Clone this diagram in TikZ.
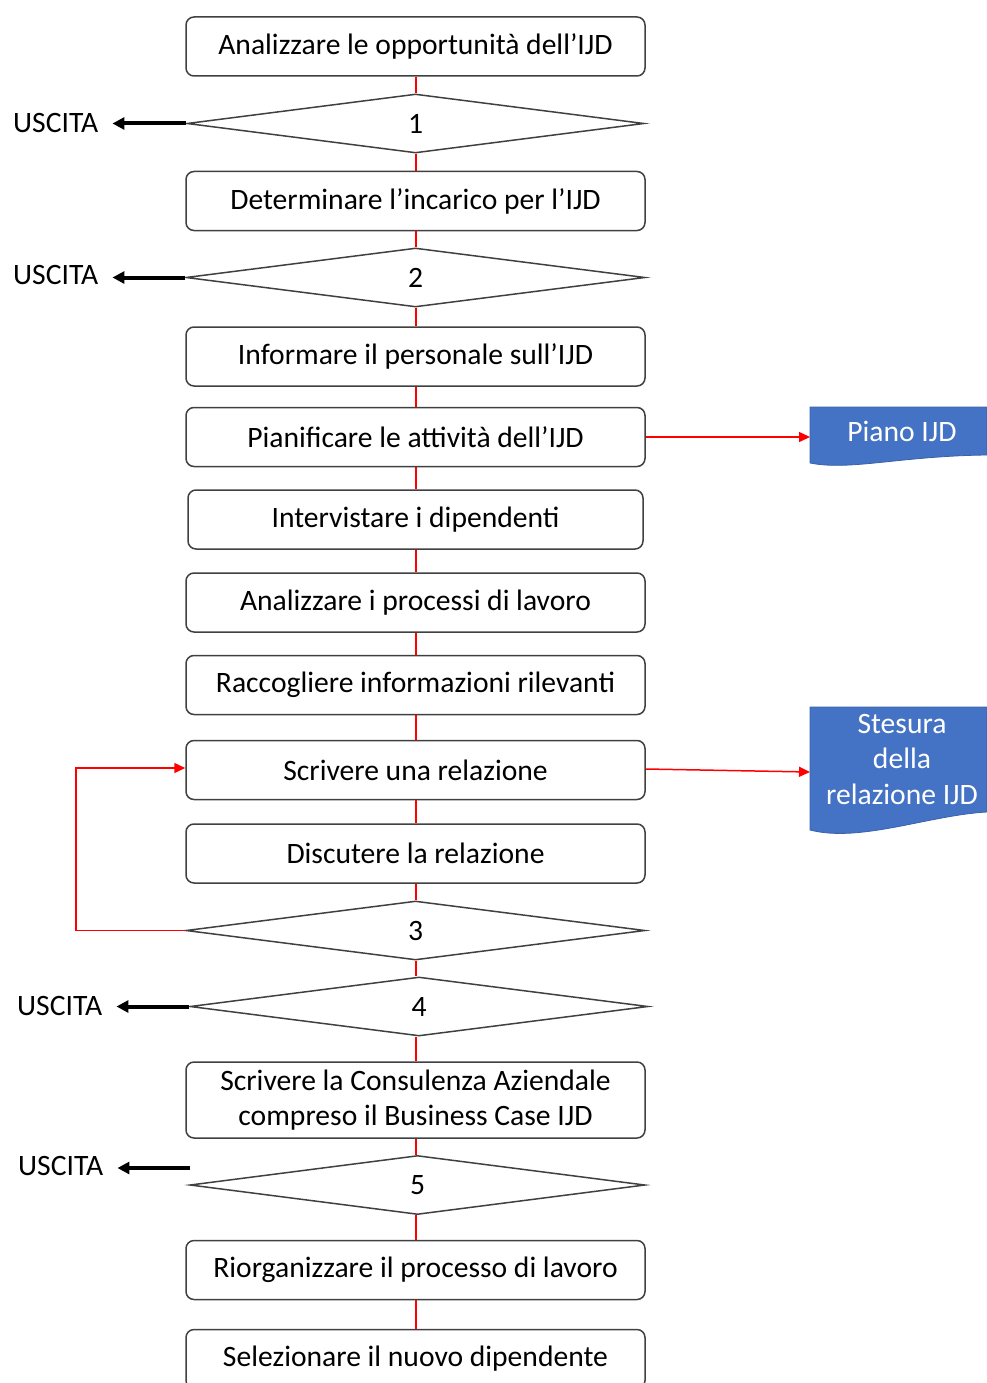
\documentclass[tikz,border=0pt]{standalone}
\usepackage{fontspec}
\setmainfont{Carlito}
\usetikzlibrary{shapes.geometric,arrows.meta}
\definecolor{boxgray}{HTML}{404040}
\definecolor{docblue}{HTML}{4472C4}
\definecolor{docedge}{HTML}{3A62AA}
\definecolor{flowred}{HTML}{FF0000}
\begin{document}
\begin{tikzpicture}[x=1pt,y=-1pt,
  txt/.style={font=\fontsize{29.6}{35.5}\selectfont},
  stepbox/.style={txt, draw=boxgray, line width=1.5pt, rounded corners=8pt,
    minimum width=459pt, minimum height=59pt, inner sep=0pt, align=center},
  decision/.style={txt, diamond, draw=boxgray, line width=1.5pt,
    minimum width=457pt, minimum height=59pt, inner sep=0pt},
  flow/.style={color=red, line width=2pt},
  docarrow/.style={draw=flowred, line width=1.5pt, -{Triangle[length=11pt,width=10pt,fill=flowred]}},
  exitarrow/.style={black, line width=4pt, -{Triangle[length=12pt,width=12pt]}, shorten >=14pt},
  exitlabel/.style={txt, anchor=west, inner sep=0pt},
  doctext/.style={txt, white, align=center, inner sep=0pt},
  docshape/.style={fill=docblue, draw=docedge, line width=0.8pt}
]
\useasboundingbox (0,0) rectangle (986,1383);

% documents
\path[docshape] (810,407) -- (987,407) -- (987,455)
  .. controls (900,456) and (850,471) .. (810,463) -- cycle;
\path[docshape] (810,707) -- (987,707) -- (987,812)
  .. controls (930,815) and (860,843) .. (810,830) -- cycle;
\node[doctext] (piano) at (902,431) {Piano IJD};
\node[doctext] (stesura) at (902,759) {Stesura\\della\\relazione IJD};
\coordinate (pianoin) at (810,437);
\coordinate (stesurain) at (810,772);

% main column
\node[stepbox] (b1) at (415.5,46.5) {Analizzare le opportunità dell’IJD};
\node[decision] (d1) at (415.5,123.5) {1};
\node[stepbox] (b2) at (415.5,201) {Determinare l’incarico per l’IJD};
\node[decision, minimum width=459pt] (d2) at (415.5,277.5) {2};
\node[stepbox] (b3) at (415.5,356.5) {Informare il personale sull’IJD};
\node[stepbox] (b4) at (415.5,437) {Pianificare le attività dell’IJD};
\node[stepbox, minimum width=455pt] (b5) at (415.5,519.5) {Intervistare i dipendenti};
\node[stepbox] (b6) at (415.5,602.5) {Analizzare i processi di lavoro};
\node[stepbox] (b7) at (415.5,685) {Raccogliere informazioni rilevanti};
\node[stepbox] (b8) at (415.5,770) {Scrivere una relazione};
\node[stepbox] (b9) at (415.5,853.5) {Discutere la relazione};
\node[decision, minimum width=459pt] (d3) at (415.5,930.5) {3};
\node[decision, minimum width=458pt] (d4) at (419,1006.5) {4};
\node[stepbox, minimum height=76pt] (b10) at (415.5,1100) {Scrivere la Consulenza Aziendale\\compreso il Business Case IJD};
\node[decision, minimum width=455pt] (d5) at (417.5,1185) {5};
\node[stepbox] (b11) at (415.5,1270) {Riorganizzare il processo di lavoro};
\node[stepbox] (b12) at (415.5,1359) {Selezionare il nuovo dipendente};

% exit labels
\node[exitlabel] (u1) at (13,123) {USCITA};
\node[exitlabel] (u2) at (13,275) {USCITA};
\node[exitlabel] (u4) at (17,1006) {USCITA};
\node[exitlabel] (u5) at (18,1166) {USCITA};
\coordinate (x5) at (190,1168);

% flow connectors
\draw[flow] (b1.south) -- (d1.north);
\draw[flow] (d1.south) -- (b2.north);
\draw[flow] (b2.south) -- (d2.north);
\draw[flow] (d2.south) -- (b3.north);
\draw[flow] (b3.south) -- (b4.north);
\draw[flow] (b4.south) -- (b5.north);
\draw[flow] (b5.south) -- (b6.north);
\draw[flow] (b6.south) -- (b7.north);
\draw[flow] (b7.south) -- (b8.north);
\draw[flow] (b8.south) -- (b9.north);
\draw[flow] (b9.south) -- (d3.north);
\draw[flow] (d3.south) -- (d4.north -| d3.south);
\draw[flow] (d4.south -| b10.north) -- (b10.north);
\draw[flow] (b10.south) -- (d5.north -| b10.south);
\draw[flow] (d5.south -| b11.north) -- (b11.north);
\draw[flow] (b11.south) -- (b12.north);

% outputs
\draw[docarrow] (b4.east) -- (pianoin);
\draw[docarrow] ([yshift=1pt]b8.east) -- (stesurain);

% loop
\draw[flow, line width=1.5pt, -{Triangle[length=11pt,width=10pt]}] (d3.west) -- (76,930.5) |- ([yshift=2pt]b8.west);

% exits
\draw[exitarrow] (d1.west) -- (u1.east |- d1.west);
\draw[exitarrow] (d2.west) -- (u2.east |- d2.west);
\draw[exitarrow] (d4.west) -- (u4.east |- d4.west);
\draw[exitarrow] (x5) -- (u5.east |- x5);
\end{tikzpicture}
\end{document}
